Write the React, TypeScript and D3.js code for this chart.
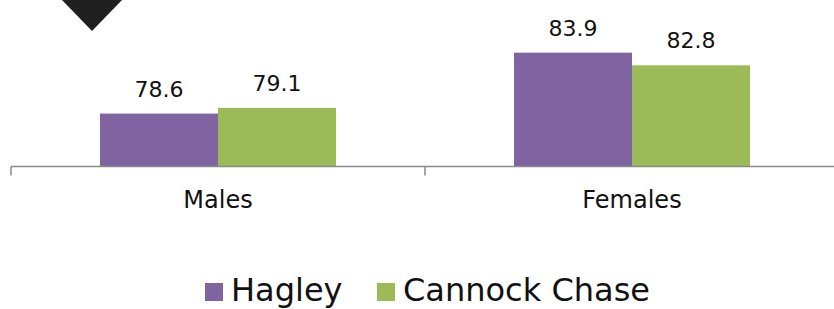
import React from 'react';
import * as d3 from 'd3';

const categories = ['Males', 'Females'];
const seriesNames = ['Hagley', 'Cannock Chase'];
const hagley = [78.6, 83.9];
const cannock = [79.1, 82.8];
const colors = ['#8064A2', '#9BBB59'];

const W = 834, H = 309;
const baseY = 166.5;
const font = "'DejaVu Sans', sans-serif";

const App = () => {
    const x0 = d3.scaleBand().domain(categories).range([11, 839]);
    const x1 = d3.scaleBand().domain(seriesNames).range([0, x0.bandwidth()]).paddingOuter(0.754);
    const y = d3.scaleLinear().domain([74, 85]).range([baseY, 40]);
    const values = [hagley, cannock];

    const ticks = [...categories.map(c => x0(c)), x0.range()[1]];

    return (
        <div style={{ position: 'absolute', left: 0, top: 0 }}>
            <svg width={W} height={H} style={{ display: 'block' }}>
                <path d="M62,0 L122,0 L92,31 Z" fill="#1f1f1f" />
                {categories.map((cat, ci) => (
                    <g key={cat} transform={`translate(${x0(cat)},0)`}>
                        {seriesNames.map((s, si) => {
                            const v = values[si][ci];
                            const bx = x1(s);
                            return (
                                <g key={s}>
                                    <rect x={bx} y={y(v)} width={x1.bandwidth()} height={baseY - y(v)} fill={colors[si]} />
                                    <text x={bx + x1.bandwidth() / 2} y={y(v) - 17} textAnchor="middle"
                                        fontFamily={font} fontSize={22} fill="#111">{v.toFixed(1)}</text>
                                </g>
                            );
                        })}
                        <text x={x0.bandwidth() / 2} y={208} textAnchor="middle" fontFamily={font} fontSize={24} fill="#111">{cat}</text>
                    </g>
                ))}
                <line x1={11} x2={W} y1={baseY} y2={baseY} stroke="#8a8a8a" strokeWidth={1.5} />
                {ticks.map((t, i) => (
                    <line key={i} x1={t} x2={t} y1={baseY} y2={baseY + 9} stroke="#8a8a8a" strokeWidth={1.5} />
                ))}
                <g>
                    <rect x={205} y={283} width={18} height={18} fill={colors[0]} />
                    <text x={231} y={301} fontFamily={font} fontSize={32} fill="#111">{seriesNames[0]}</text>
                    <rect x={377} y={283} width={18} height={18} fill={colors[1]} />
                    <text x={403} y={301} fontFamily={font} fontSize={32} fill="#111">{seriesNames[1]}</text>
                </g>
            </svg>
        </div>
    );
};

export default App;
